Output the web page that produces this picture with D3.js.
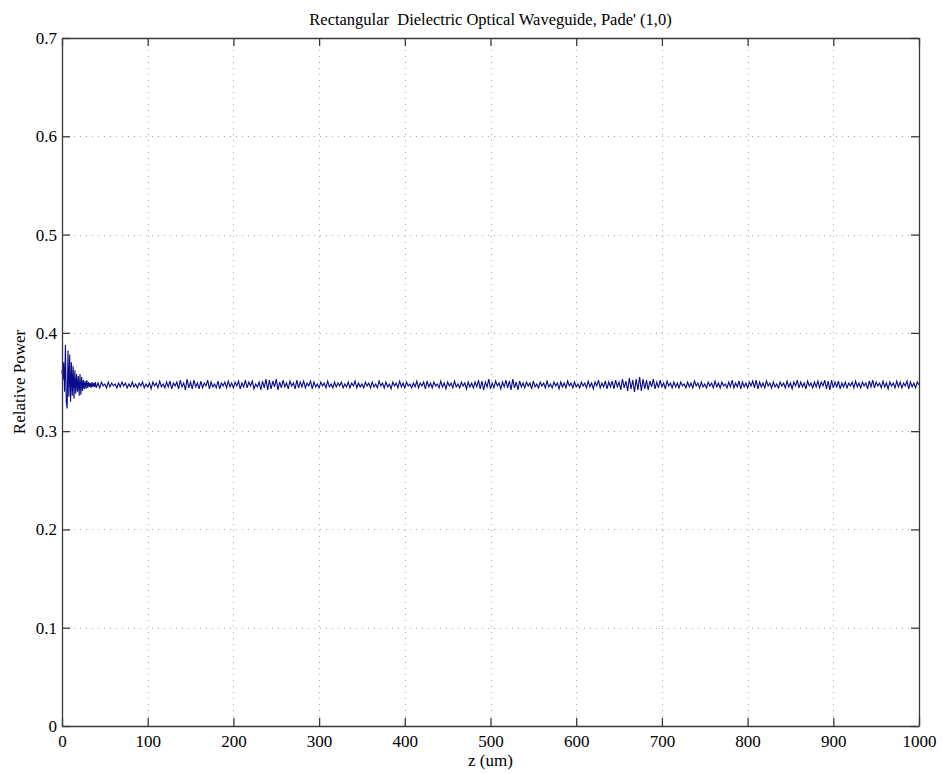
<!DOCTYPE html>
<html>
<head>
<meta charset="utf-8">
<script src="https://cdn.jsdelivr.net/npm/d3@7"></script>
<style>
  html, body { margin: 0; padding: 0; background: #fff; }
  svg { display: block; }
  text { font-family: "Liberation Serif", "Times New Roman", serif; fill: #000; }
</style>
</head>
<body>
<svg id="chart" width="942" height="774"></svg>
<script>
// ---- data ----
const chartTitle = "Rectangular  Dielectric Optical Waveguide, Pade' (1,0)";
const xLabel = "z (um)";
const yLabel = "Relative Power";
const xTicks = [0, 100, 200, 300, 400, 500, 600, 700, 800, 900, 1000];
const yTicks = [0, 0.1, 0.2, 0.3, 0.4, 0.5, 0.6, 0.7];

// early transient: z = 0..40, step 1
const earlyZStart = 0;
const earlyZStep = 1;
const earlyPower = [
0.362,0.352,0.370,0.340,0.388,0.330,0.323,0.382,0.335,0.378,0.330,0.370,0.336,0.366,0.333,0.362,0.338,0.358,0.340,0.356,
0.336,0.358,0.337,0.355,0.341,0.352,0.343,0.351,0.343,0.352,0.344,0.350,0.345,0.349,0.344,0.350,0.345,0.349,0.345,0.350,
0.344
];

// steady part: z = 42..1000, step 2
const steadyZStart = 42;
const steadyZStep = 2;
const steadyPower = [
0.349,0.344,0.350,0.346,0.348,0.344,0.350,0.345,0.349,0.346,0.348,0.344,0.349,0.345,0.350,0.346,0.349,0.344,0.348,0.345,
0.350,0.345,0.348,0.344,0.349,0.346,0.350,0.344,0.348,0.345,0.349,0.343,0.350,0.346,0.349,0.344,0.351,0.345,0.348,0.344,
0.350,0.345,0.351,0.343,0.349,0.346,0.350,0.343,0.352,0.345,0.349,0.342,0.353,0.344,0.350,0.343,0.352,0.345,0.349,0.343,
0.351,0.344,0.349,0.346,0.352,0.343,0.350,0.345,0.348,0.344,0.351,0.343,0.349,0.346,0.350,0.344,0.351,0.345,0.349,0.344,
0.350,0.346,0.351,0.343,0.349,0.345,0.352,0.344,0.350,0.346,0.351,0.343,0.348,0.345,0.350,0.342,0.351,0.344,0.353,0.342,
0.352,0.343,0.351,0.345,0.353,0.342,0.350,0.344,0.352,0.345,0.349,0.343,0.351,0.346,0.349,0.343,0.352,0.344,0.350,0.345,
0.351,0.344,0.349,0.346,0.351,0.343,0.350,0.345,0.348,0.344,0.350,0.346,0.349,0.344,0.351,0.345,0.348,0.344,0.350,0.345,
0.349,0.346,0.350,0.344,0.348,0.345,0.350,0.344,0.349,0.346,0.351,0.344,0.349,0.345,0.348,0.344,0.350,0.346,0.349,0.344,
0.350,0.345,0.348,0.344,0.351,0.346,0.349,0.344,0.350,0.345,0.348,0.343,0.350,0.346,0.349,0.344,0.351,0.345,0.349,0.344,
0.350,0.346,0.348,0.344,0.349,0.345,0.351,0.344,0.349,0.346,0.350,0.343,0.351,0.345,0.349,0.344,0.350,0.346,0.348,0.344,
0.351,0.345,0.349,0.343,0.350,0.346,0.349,0.344,0.351,0.345,0.348,0.344,0.350,0.346,0.349,0.343,0.350,0.345,0.349,0.344,
0.350,0.345,0.352,0.343,0.351,0.342,0.350,0.345,0.353,0.343,0.349,0.344,0.351,0.346,0.349,0.343,0.350,0.345,0.352,0.344,
0.351,0.342,0.353,0.344,0.350,0.342,0.351,0.345,0.349,0.344,0.350,0.346,0.349,0.343,0.351,0.345,0.348,0.344,0.350,0.346,
0.349,0.344,0.351,0.345,0.348,0.344,0.350,0.346,0.349,0.343,0.350,0.345,0.349,0.344,0.351,0.346,0.349,0.344,0.350,0.345,
0.348,0.344,0.350,0.346,0.349,0.344,0.351,0.345,0.349,0.343,0.350,0.346,0.352,0.344,0.349,0.345,0.351,0.343,0.350,0.345,
0.351,0.343,0.352,0.345,0.350,0.342,0.353,0.344,0.351,0.341,0.354,0.343,0.352,0.340,0.353,0.342,0.355,0.341,0.353,0.343,
0.352,0.342,0.351,0.345,0.353,0.343,0.350,0.344,0.352,0.345,0.349,0.343,0.351,0.346,0.349,0.344,0.350,0.345,0.349,0.344,
0.350,0.346,0.348,0.344,0.350,0.345,0.349,0.344,0.351,0.346,0.349,0.344,0.350,0.345,0.348,0.344,0.350,0.346,0.349,0.344,
0.351,0.345,0.349,0.344,0.350,0.346,0.348,0.344,0.350,0.345,0.352,0.344,0.349,0.345,0.351,0.343,0.350,0.345,0.349,0.344,
0.350,0.346,0.351,0.344,0.352,0.343,0.350,0.345,0.349,0.344,0.351,0.346,0.349,0.344,0.350,0.345,0.348,0.344,0.350,0.346,
0.349,0.344,0.351,0.345,0.349,0.343,0.350,0.346,0.352,0.344,0.350,0.345,0.349,0.343,0.351,0.346,0.349,0.344,0.350,0.345,
0.351,0.344,0.350,0.346,0.352,0.343,0.351,0.342,0.352,0.344,0.350,0.345,0.351,0.343,0.349,0.345,0.350,0.344,0.349,0.346,
0.350,0.344,0.351,0.345,0.349,0.344,0.350,0.346,0.349,0.343,0.351,0.345,0.352,0.344,0.350,0.346,0.349,0.344,0.351,0.345,
0.349,0.343,0.350,0.346,0.349,0.344,0.351,0.345,0.350,0.344,0.349,0.346,0.351,0.343,0.350,0.345,0.349,0.344,0.350,0.347
];

const powerSeries = earlyPower.map((v, i) => ({ z: earlyZStart + i * earlyZStep, p: v }))
  .concat(steadyPower.map((v, i) => ({ z: steadyZStart + i * steadyZStep, p: v })));

// ---- layout ----
const plot = { left: 62, right: 919, top: 38, bottom: 726 };
const svg = d3.select("#chart");

const x = d3.scaleLinear().domain([0, 1000]).range([plot.left, plot.right]);
const y = d3.scaleLinear().domain([0, 0.7]).range([plot.bottom, plot.top]);

const axisColor = "#3a3a3a";
const gridColor = "#a8a8a8";

// grid
const grid = svg.append("g");
grid.selectAll("line.gx").data(xTicks.slice(1, -1)).enter().append("line")
  .attr("x1", d => Math.round(x(d)) + 0.5).attr("x2", d => Math.round(x(d)) + 0.5)
  .attr("y1", plot.top).attr("y2", plot.bottom)
  .attr("stroke", gridColor).attr("stroke-width", 1).attr("stroke-dasharray", "1,5");
grid.selectAll("line.gy").data(yTicks.slice(1, -1)).enter().append("line")
  .attr("y1", d => Math.round(y(d)) + 0.5).attr("y2", d => Math.round(y(d)) + 0.5)
  .attr("x1", plot.left).attr("x2", plot.right)
  .attr("stroke", gridColor).attr("stroke-width", 1).attr("stroke-dasharray", "1,5");

// data line
const line = d3.line()
  .x(d => x(d.z))
  .y(d => y(d.p));
svg.append("path").datum(powerSeries)
  .attr("d", line)
  .attr("fill", "none")
  .attr("stroke", "#0a0a8c")
  .attr("stroke-width", 1.1);

// axes (inward ticks, box)
const tickLen = 8;
const fmtY = d => d === 0 ? "0" : d3.format(".1f")(d);
const fmtX = d3.format("d");

const bottomAxis = d3.axisBottom(x).tickValues(xTicks).tickFormat(fmtX).tickSizeInner(-tickLen).tickSizeOuter(0).tickPadding(9);
const topAxis = d3.axisTop(x).tickValues(xTicks).tickSizeInner(-tickLen).tickSizeOuter(0).tickFormat("");
const leftAxis = d3.axisLeft(y).tickValues(yTicks).tickFormat(fmtY).tickSizeInner(-tickLen).tickSizeOuter(0).tickPadding(5);
const rightAxis = d3.axisRight(y).tickValues(yTicks).tickSizeInner(-tickLen).tickSizeOuter(0).tickFormat("");

function styleAxis(g) {
  g.select(".domain").attr("stroke", axisColor).attr("stroke-width", 1.3);
  g.selectAll(".tick line").attr("stroke", axisColor).attr("stroke-width", 1.3);
  g.selectAll(".tick text").attr("font-family", "'Liberation Serif', serif").attr("font-size", 17).attr("fill", "#000");
}

svg.append("g").attr("transform", `translate(0,${plot.bottom})`).call(bottomAxis).call(styleAxis);
svg.append("g").attr("transform", `translate(0,${plot.top})`).call(topAxis).call(styleAxis);
svg.append("g").attr("transform", `translate(${plot.left},0)`).call(leftAxis).call(styleAxis);
svg.append("g").attr("transform", `translate(${plot.right},0)`).call(rightAxis).call(styleAxis);

// title and labels
svg.append("text")
  .attr("x", (plot.left + plot.right) / 2).attr("y", 25)
  .attr("text-anchor", "middle").attr("font-size", 16.5)
  .style("white-space", "pre").attr("xml:space", "preserve")
  .text(chartTitle);

svg.append("text")
  .attr("x", (plot.left + plot.right) / 2).attr("y", 766)
  .attr("text-anchor", "middle").attr("font-size", 17)
  .text(xLabel);

svg.append("text")
  .attr("transform", `translate(25,${(plot.top + plot.bottom) / 2}) rotate(-90)`)
  .attr("text-anchor", "middle").attr("font-size", 17)
  .text(yLabel);
</script>
</body>
</html>
